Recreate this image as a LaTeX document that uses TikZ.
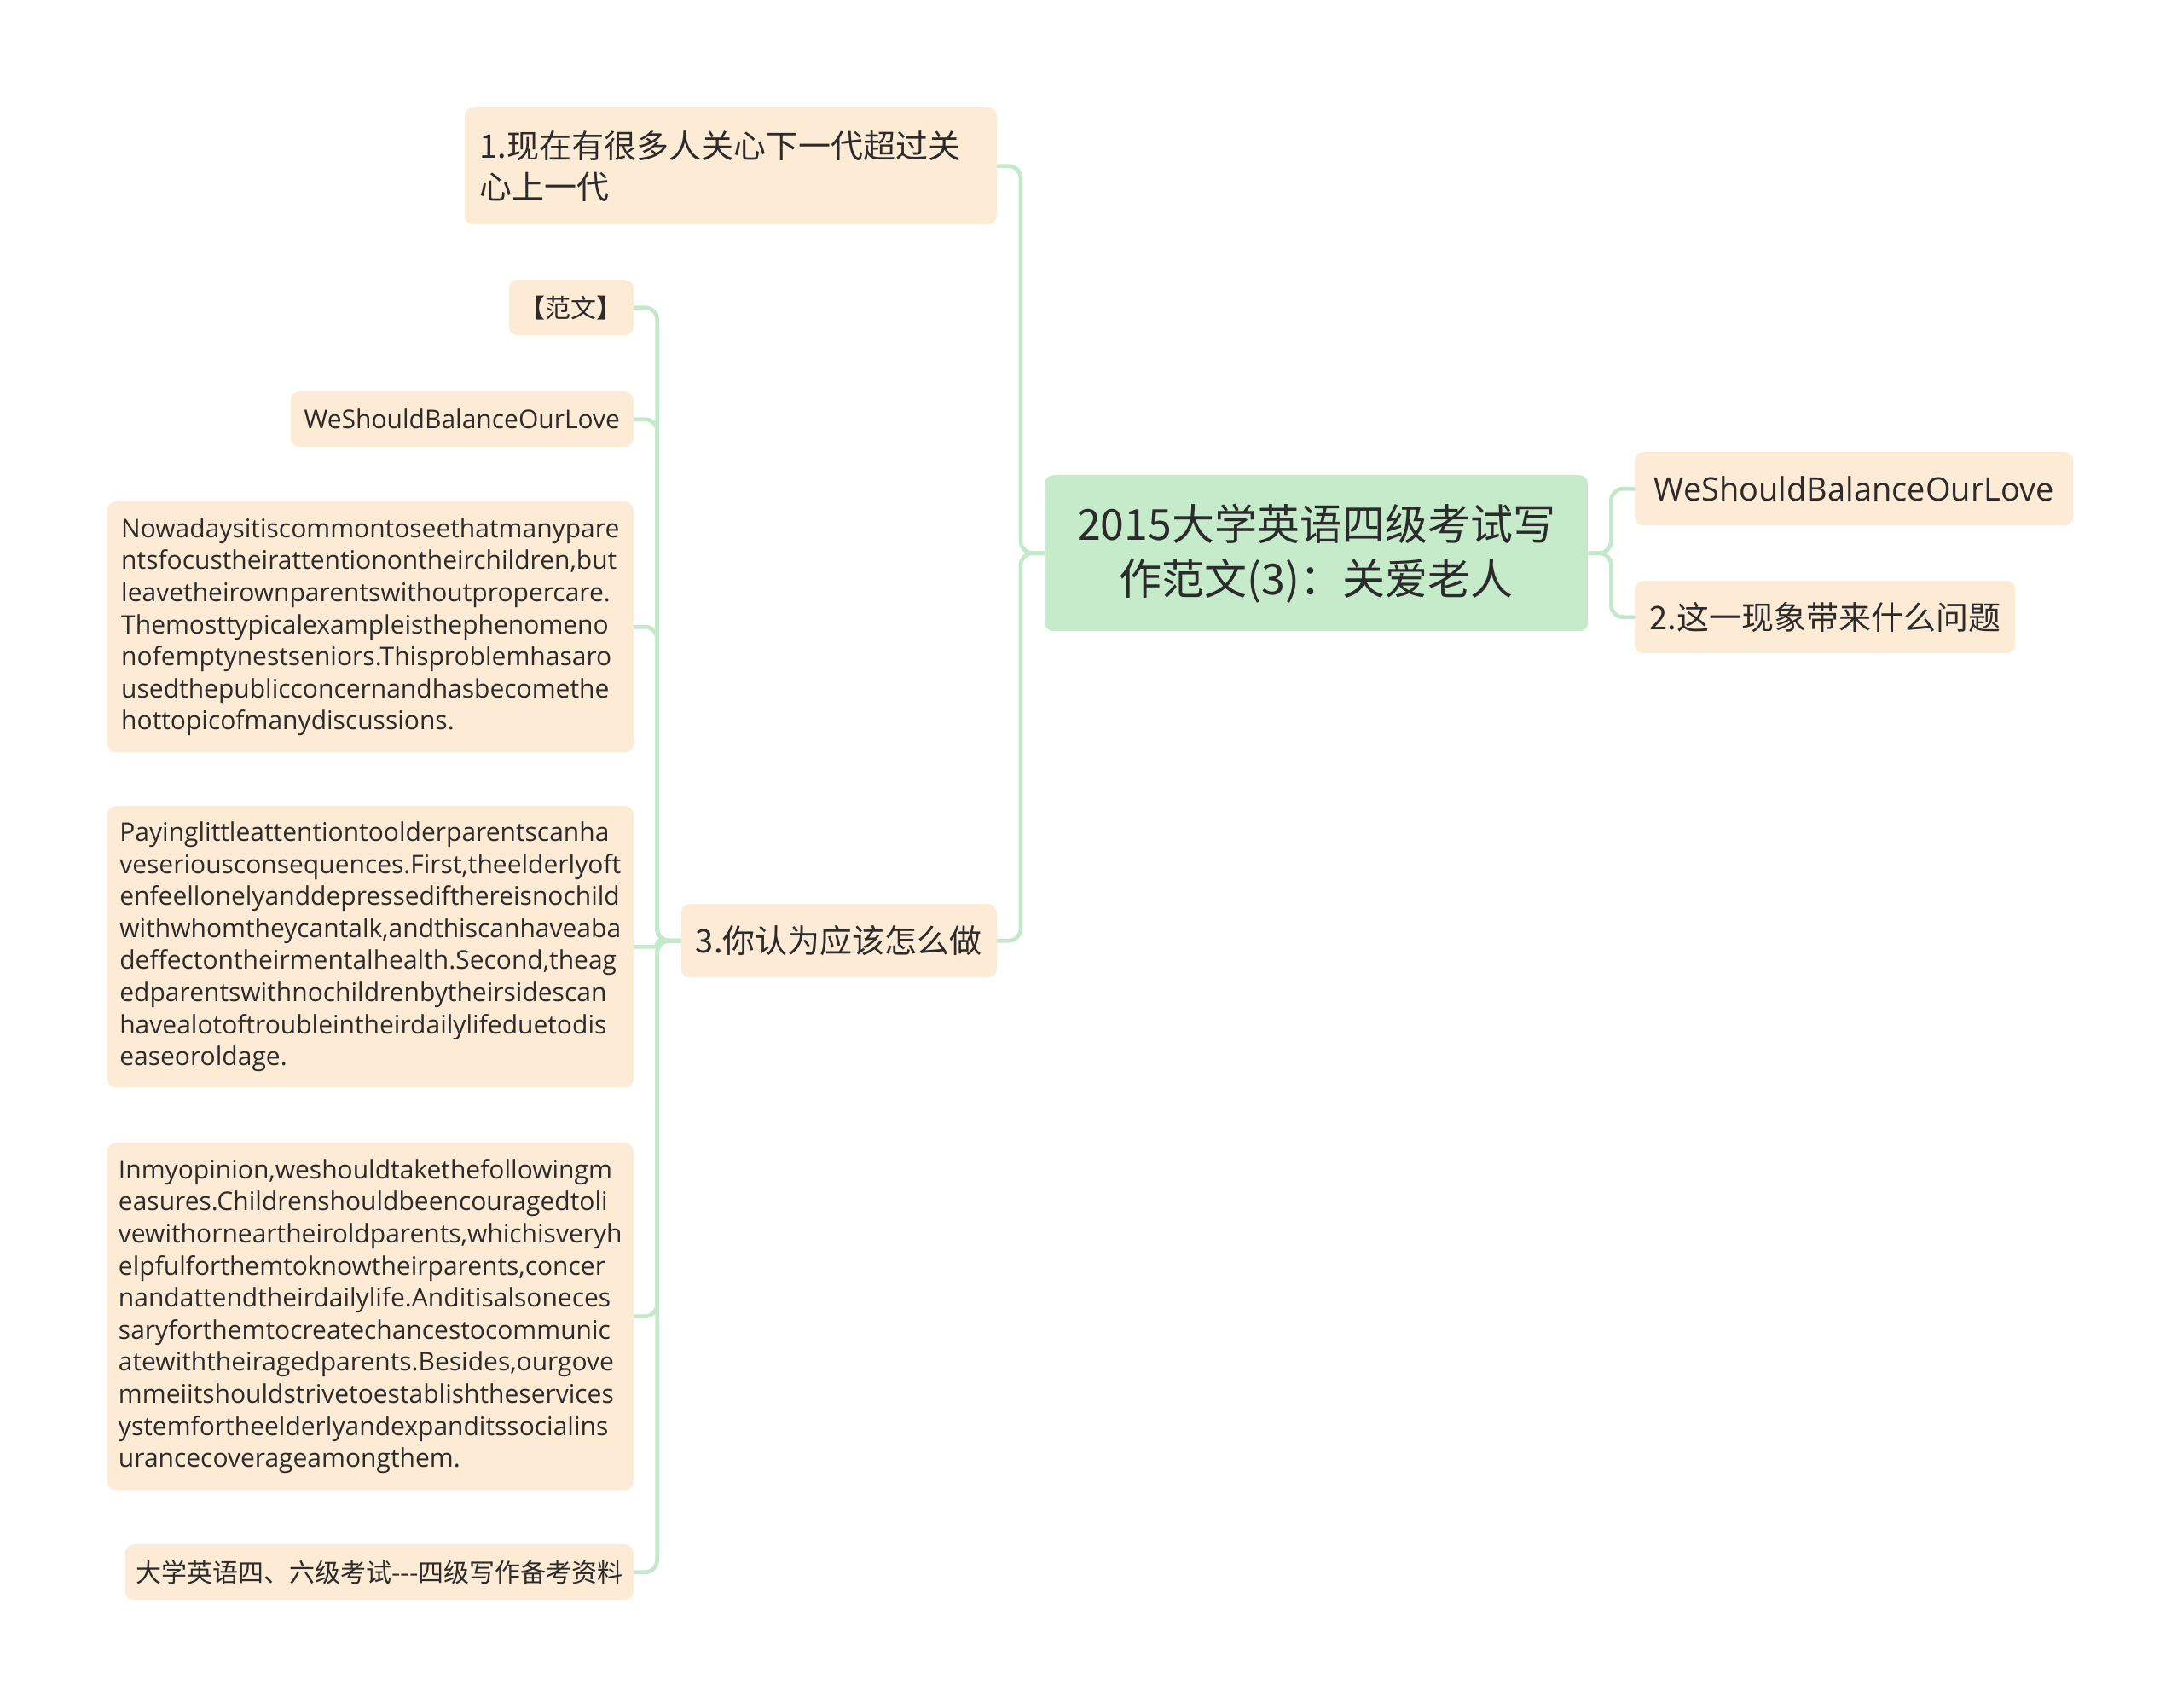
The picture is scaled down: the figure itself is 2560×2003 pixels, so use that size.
\documentclass[tikz,border=0pt]{standalone}
\usepackage{fontspec}
\setmainfont{Open Sans}
\newfontfamily\cjk{Noto Sans CJK SC}
\definecolor{peach}{HTML}{FEEBD5}
\definecolor{rootg}{HTML}{C6EBCB}
\definecolor{linec}{HTML}{C4E8CA}
\definecolor{txt}{HTML}{2B2B2B}
\begin{document}
\begin{tikzpicture}[x=1pt,y=-1pt,
  box/.style={fill=peach, rounded corners=10pt, text=txt, inner sep=0pt},
  conn/.style={draw=linec, line width=4.7pt, rounded corners=14pt},
  rootfont/.style={font={\cjk\fontsize{50}{64}\selectfont}},
  cjkone/.style={font={\cjk\fontsize{38}{48}\selectfont}},
  latone/.style={font={\fontsize{38}{48}\selectfont}},
  cjktwo/.style={font={\cjk\fontsize{30}{37.6}\selectfont}},
  lattwo/.style={font={\fontsize{30}{37.6}\selectfont}},
]
\useasboundingbox[fill=white] (0,0) rectangle (2560,2003);

% root
\node[box, fill=rootg, rootfont, anchor=north west, minimum width=637, minimum height=183, align=center] (root) at (1225,557) {2015大学英语四级考试写\\作范文(3)：关爱老人};

% level 1
\node[box, cjkone, anchor=north east, minimum width=624, minimum height=137, text width=588, inner xsep=18pt, align=left] (n1) at (1169,126) {1.现在有很多人关心下一代超过关\\心上一代};
\node[box, cjkone, anchor=north east, minimum width=370, minimum height=86] (n3) at (1169,1060) {3.你认为应该怎么做};
\node[box, latone, anchor=north west, minimum width=514, minimum height=86] (r1) at (1917,530) {WeShouldBalanceOurLove};
\node[box, cjkone, anchor=north west, minimum width=446, minimum height=85] (r2) at (1917,681) {2.这一现象带来什么问题};

% level 2
\node[box, cjktwo, anchor=north east, minimum width=146, minimum height=65] (fw) at (743,328) {【范文】};
\node[box, lattwo, anchor=north east, minimum width=402, minimum height=65] (we) at (743,459) {WeShouldBalanceOurLove};
\node[box, lattwo, anchor=north east, minimum width=617, minimum height=294, align=left] (now) at (743,588) {Nowadaysitiscommontoseethatmanypare\\ntsfocustheirattentionontheirchildren,but\\leavetheirownparentswithoutpropercare.\\Themosttypicalexampleisthephenomeno\\nofemptynestseniors.Thisproblemhasaro\\usedthepublicconcernandhasbecomethe\\hottopicofmanydiscussions.};
\node[box, lattwo, anchor=north east, minimum width=617, minimum height=330, align=left] (pay) at (743,945) {Payinglittleattentiontoolderparentscanha\\veseriousconsequences.First,theelderlyoft\\enfeellonelyanddepressedifthereisnochild\\withwhomtheycantalk,andthiscanhaveaba\\deffectontheirmentalhealth.Second,theag\\edparentswithnochildrenbytheirsidescan\\havealotoftroubleintheirdailylifeduetodis\\easeoroldage.};
\node[box, lattwo, anchor=north east, minimum width=617, minimum height=407, align=left] (inm) at (743,1340) {Inmyopinion,weshouldtakethefollowingm\\easures.Childrenshouldbeencouragedtoli\\vewithorneartheiroldparents,whichisveryh\\elpfulforthemtoknowtheirparents,concer\\nandattendtheirdailylife.Anditisalsoneces\\saryforthemtocreatechancestocommunic\\atewiththeiragedparents.Besides,ourgove\\mmeiitshouldstrivetoestablishtheservices\\ystemfortheelderlyandexpanditssocialins\\urancecoverageamongthem.};
\node[box, cjktwo, anchor=north east, minimum width=596, minimum height=65] (ref) at (743,1811) {大学英语四、六级考试---四级写作备考资料};

% connectors
\draw[conn] (root.west) -- ++(-28,0) |- (n1.east);
\draw[conn] (root.west) -- ++(-28,0) |- (n3.east);
\draw[conn] (root.east) -- ++(27,0) |- (r1.west);
\draw[conn] (root.east) -- ++(27,0) |- (r2.west);
\draw[conn] (n3.west) -- ++(-28,0) |- (fw.east);
\draw[conn] (n3.west) -- ++(-28,0) |- (we.east);
\draw[conn] (n3.west) -- ++(-28,0) |- (now.east);
\draw[conn, rounded corners=3pt] (n3.west) -- ++(-28,0) |- (pay.east);
\draw[conn] (n3.west) -- ++(-28,0) |- (inm.east);
\draw[conn] (n3.west) -- ++(-28,0) |- (ref.east);
\end{tikzpicture}
\end{document}
